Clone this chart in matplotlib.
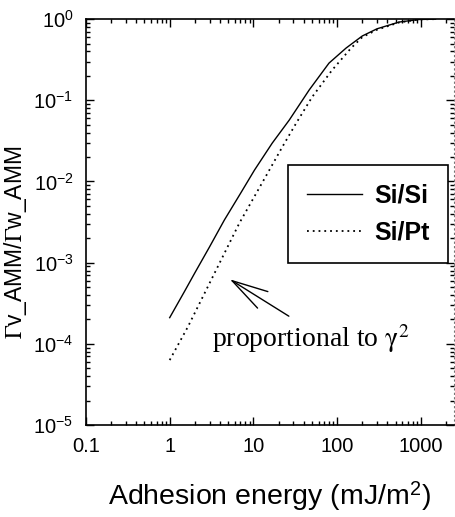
import matplotlib
matplotlib.use("Agg")
import matplotlib.pyplot as plt
from matplotlib.ticker import LogLocator, FixedLocator, FixedFormatter, NullFormatter

plt.rcParams["font.family"] = ["Liberation Sans", "DejaVu Sans"]
plt.rcParams["mathtext.fontset"] = "stix"
plt.rcParams["axes.unicode_minus"] = False

# Si/Si (solid)
x_sisi = [1, 1.5, 2, 3, 4.5, 7, 10.3, 16.8, 26.8, 46.4, 80, 128, 200, 300, 550, 950, 1500]
y_sisi = [2.1e-4, 4.4e-4, 7.5e-4, 1.57e-3, 3.35e-3, 7.1e-3, 0.0138, 0.0297, 0.057,
          0.134, 0.287, 0.44, 0.62, 0.76, 0.92, 0.99, 1.0]

# Si/Pt (dotted)
x_sipt = [1, 1.64, 3, 4.5, 6.8, 10, 15.5, 22.1, 32.5, 50.4, 87, 147, 200, 300, 550, 950, 1500]
y_sipt = [6.3e-5, 1.6e-4, 5.6e-4, 1.3e-3, 3.07e-3, 6.2e-3, 0.0138, 0.0265, 0.0524,
          0.11, 0.235, 0.44, 0.6, 0.74, 0.91, 0.99, 1.0]

x_ticks = [0.1, 1, 10, 100, 1000]
x_labels = ["0.1", "1", "10", "100", "1000"]

fig = plt.figure(figsize=(4.55, 5.17), dpi=100)
ax = fig.add_axes([0.189, 0.178, 0.809, 0.785])

ax.plot(x_sisi, y_sisi, color="black", lw=1.0, label="Si/Si")
ax.plot(x_sipt, y_sipt, color="black", lw=1.3, linestyle=(0, (1, 2.2)), label="Si/Pt")

ax.set_xscale("log")
ax.set_yscale("log")
ax.set_xlim(0.1, 2500)
ax.set_ylim(1e-5, 1)

ax.xaxis.set_major_locator(FixedLocator(x_ticks))
ax.xaxis.set_major_formatter(FixedFormatter(x_labels))
ax.xaxis.set_minor_locator(LogLocator(base=10, subs=range(2, 10), numticks=20))
ax.xaxis.set_minor_formatter(NullFormatter())
ax.yaxis.set_major_locator(LogLocator(base=10, numticks=10))
ax.yaxis.set_minor_locator(LogLocator(base=10, subs=range(2, 10), numticks=20))
ax.yaxis.set_minor_formatter(NullFormatter())

ax.tick_params(which="both", direction="in", top=True, right=True, width=1)
ax.tick_params(which="major", length=6, labelsize=14.5, pad=9)
ax.tick_params(which="minor", length=3)

for s in ["left", "bottom", "top"]:
    ax.spines[s].set_linewidth(1.2)
ax.spines["right"].set_linestyle((0, (1, 3)))
ax.spines["right"].set_color("0.45")

ax.set_xlabel("Adhesion energy (mJ/m$^{\\mathregular{2}}$)", fontsize=20.5, labelpad=17)
ax.set_ylabel("$\\Gamma$v_AMM/$\\Gamma$w_AMM", fontsize=16.5)
ax.yaxis.set_label_coords(-0.155, 0.45)

leg = ax.legend(loc="upper left", bbox_to_anchor=(0.549, 0.640), fancybox=False,
                edgecolor="black", framealpha=1, handlelength=2.2, handletextpad=0.5,
                labelspacing=0.5, borderpad=0.75, borderaxespad=0,
                prop={"weight": "bold", "size": 18})
leg.get_frame().set_linewidth(1.2)

# arrow + note
ax.annotate("", xy=(4.9, 6.5e-4), xytext=(28.3, 2.1e-4),
            arrowprops=dict(arrowstyle="->, head_length=2.6, head_width=0.7",
                            color="black", lw=1.0))
ax.text(0.342, 0.192, "proportional to $\\mathrm{\\gamma}^2$", transform=ax.transAxes,
        fontsize=20, family=["Liberation Serif", "DejaVu Serif"], va="baseline", ha="left")

plt.savefig("out.png", dpi=100)
